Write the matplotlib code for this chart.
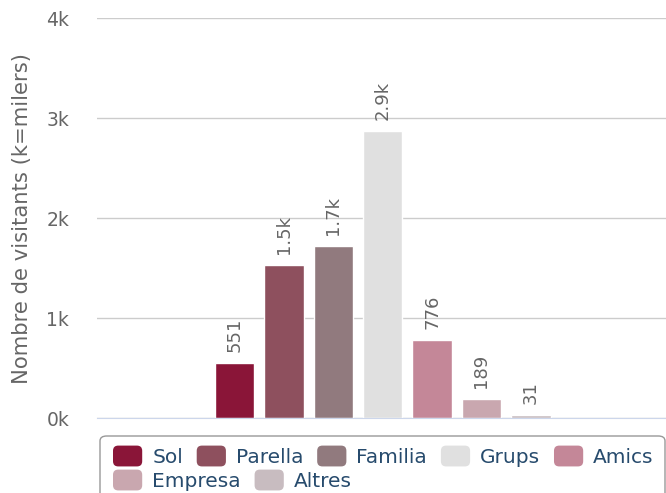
import numpy as np
import matplotlib.pyplot as plt
from matplotlib.patches import FancyBboxPatch, Patch
from matplotlib.legend_handler import HandlerPatch

series = ['Sol', 'Parella', 'Familia', 'Grups', 'Amics', 'Empresa', 'Altres']
visitants = [551, 1530, 1723, 2870, 776, 189, 31]
colors = ['#8a1538', '#8e505e', '#917a7e', '#e0e0e0', '#c48798', '#c9a7af', '#c8bcc0']
yticks = [0, 1000, 2000, 3000, 4000]
ytick_labels = ['0k', '1k', '2k', '3k', '4k']


def fmt(v):
    if v >= 1000:
        return '%.1fk' % (v / 1000.0)
    return str(v)


def rounded_patch(legend, orig_handle, xdescent, ydescent, width, height, fontsize):
    # rounded swatch, about 29x21 px like the original legend
    h = 15.0
    cy = -ydescent + height / 2.0
    return FancyBboxPatch((-xdescent, cy - h / 2.0), width, h,
                          boxstyle='round,pad=0,rounding_size=%f' % (0.25 * h))


W, H = 666, 493
fig = plt.figure(figsize=(W / 100, H / 100), dpi=100)
ax = fig.add_axes([97 / W, 1 - 418 / H, 569 / W, 400 / H])

pos = np.arange(len(series)) - (len(series) - 1) / 2.0
ax.bar(pos, visitants, width=0.8, color=colors, edgecolor='white', linewidth=1, zorder=3)

for x, v in zip(pos, visitants):
    ax.annotate(fmt(v), (x, v), xytext=(0, 8), textcoords='offset points',
                rotation=90, ha='center', va='bottom', fontsize=13, color='#666666')

ax.set_xlim(-5.79, 5.74)
ax.set_ylim(0, 4000)
ax.set_yticks(yticks)
ax.set_yticklabels(ytick_labels)
ax.set_xticks([])
ax.tick_params(axis='y', length=0, pad=20, labelsize=13.5, labelcolor='#666666')
ax.grid(axis='y', color='#cccccc', linewidth=1, zorder=0)
for s in ['top', 'right', 'left']:
    ax.spines[s].set_visible(False)
ax.spines['bottom'].set_color('#ccd6eb')
ax.spines['bottom'].set_zorder(4)
ax.set_ylabel('Nombre de visitants (k=milers)', fontsize=15.2, color='#666666')
ax.yaxis.set_label_coords((22 - 97) / 569, 0.5)
ax.yaxis.label.set_va('center')

# legend: two rows like the flowing layout, with one shared rounded frame
handles = [Patch(facecolor=c, edgecolor='none') for c in colors]
hmap = {Patch: HandlerPatch(patch_func=rounded_patch)}
leg_kw = dict(loc='upper left', frameon=False, fontsize=14.5, labelcolor='#274b6d',
              handlelength=1.45, handleheight=1.0, handletextpad=0.5,
              columnspacing=0.68, borderpad=0, borderaxespad=0, handler_map=hmap)
fig.legend(handles[:5], series[:5], ncol=5, bbox_to_anchor=(113 / W, 1 - 447 / H), **leg_kw)
fig.legend(handles[5:], series[5:], ncol=2, bbox_to_anchor=(113 / W, 1 - 471 / H), **leg_kw)
frame = FancyBboxPatch((100 / W, -0.1), 565 / W, (1 - 436 / H) + 0.1,
                       boxstyle='round,pad=0,rounding_size=0.01',
                       transform=fig.transFigure, facecolor='white',
                       edgecolor='#999999', linewidth=1, zorder=0)
fig.patches.append(frame)

fig.savefig('out.png', dpi=100)
